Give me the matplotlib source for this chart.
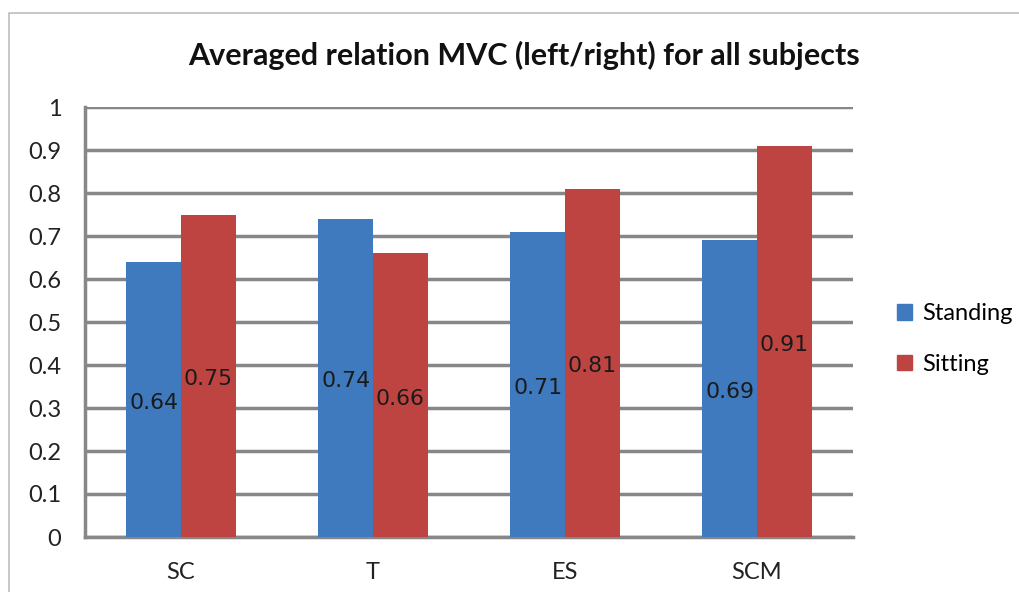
import matplotlib.pyplot as plt
import numpy as np
from matplotlib.lines import Line2D
from matplotlib.patches import Patch

categories = ['SC', 'T', 'ES', 'SCM']
standing = [0.64, 0.74, 0.71, 0.69]
sitting = [0.75, 0.66, 0.81, 0.91]
yticks = [0, 0.1, 0.2, 0.3, 0.4, 0.5, 0.6, 0.7, 0.8, 0.9, 1]
ytick_labels = ['0', '0.1', '0.2', '0.3', '0.4', '0.5', '0.6', '0.7', '0.8', '0.9', '1']

blue = '#3F7ABE'
red = '#BE4441'
grid_c = '#878787'

fig = plt.figure(figsize=(10.19, 5.92), dpi=100)
ax = fig.add_axes([85 / 1019, 1 - 537 / 592, (853 - 85) / 1019, (537 - 107) / 592])

x = np.arange(len(categories))
w = 1 / 3.5  # excel gap width 150%
b1 = ax.bar(x - w / 2, standing, w, color=blue, zorder=3)
b2 = ax.bar(x + w / 2, sitting, w, color=red, zorder=3)

# data labels in the middle of each bar
for bars, vals in ((b1, standing), (b2, sitting)):
    for r, v in zip(bars, vals):
        ax.text(r.get_x() + r.get_width() / 2, v / 2 - 0.008, str(v), ha='center', va='center',
                fontsize=15.8, family='DejaVu Sans', color='#1a1a1a', zorder=4)

ax.set_xlim(-0.5, len(categories) - 0.5)
ax.set_ylim(0, 1)
ax.set_yticks(yticks)
ax.set_yticklabels(ytick_labels, fontsize=17, family='Lato', color='#222222')
ax.set_xticks(x)
ax.set_xticklabels(categories, fontsize=17, family='Lato', color='#222222')
ax.tick_params(axis='both', length=0)
ax.tick_params(axis='y', pad=17)
ax.tick_params(axis='x', pad=18)

ax.yaxis.grid(True, color=grid_c, linewidth=2.5, zorder=0)
for s in ('top', 'right'):
    ax.spines[s].set_visible(False)
for s in ('left', 'bottom'):
    ax.spines[s].set_color(grid_c)
    ax.spines[s].set_linewidth(2.5)

fig.text(524 / 1019, 1 - 55 / 592, 'Averaged relation MVC (left/right) for all subjects',
         ha='center', va='center', fontsize=22, fontweight='bold', family='Lato', color='#111111')

handles = [Patch(color=blue), Patch(color=red)]
fig.legend(handles, ['Standing', 'Sitting'], loc='center left', bbox_to_anchor=(897 / 1019, 1 - 339 / 592),
           frameon=False, prop={'family': 'Lato', 'size': 17}, handlelength=0.64, handleheight=0.64,
           handletextpad=0.42, labelspacing=1.25, borderpad=0, borderaxespad=0)

# chart frame (left and top only visible)
fig.add_artist(Line2D([9 / 1019, 9 / 1019, 1], [0, 1 - 13 / 592, 1 - 13 / 592],
                      transform=fig.transFigure, color='#bdbdbd', linewidth=1.2))

plt.savefig('out.png', dpi=100)
